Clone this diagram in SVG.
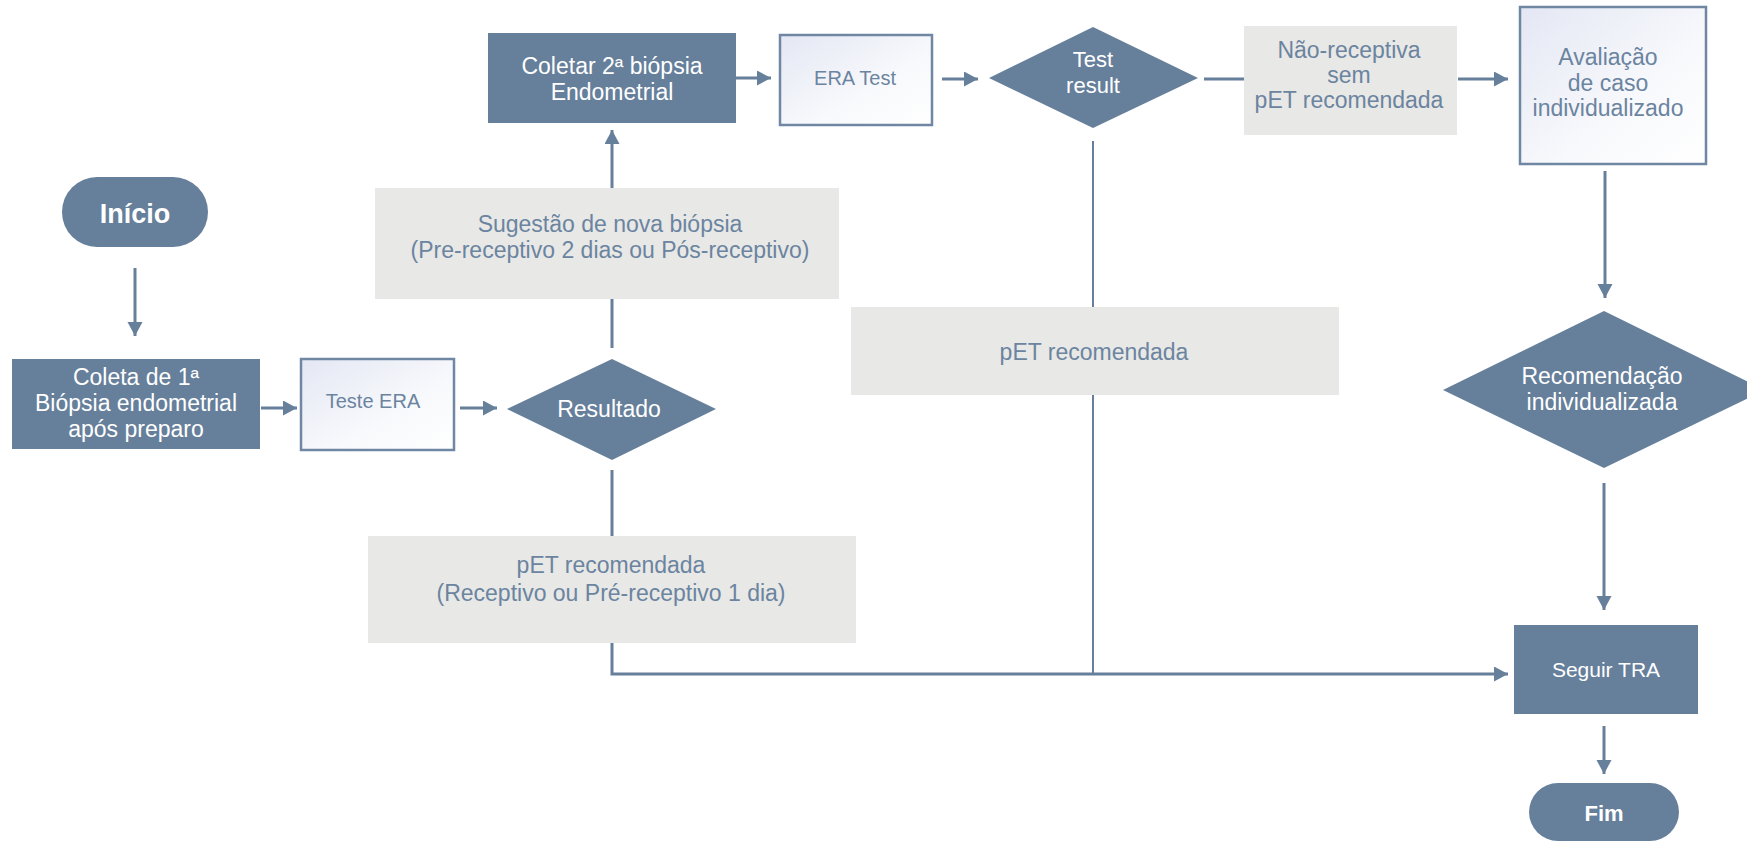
<svg xmlns="http://www.w3.org/2000/svg" width="1747" height="842" viewBox="0 0 1747 842">
<defs>
<linearGradient id="lg" x1="0" y1="0" x2="1" y2="1">
<stop offset="0" stop-color="#e4e7f4"/>
<stop offset="0.6" stop-color="#f8f9fc"/>
<stop offset="1" stop-color="#ffffff"/>
</linearGradient>
<marker id="ah" markerUnits="userSpaceOnUse" markerWidth="16" markerHeight="16" refX="14" refY="7.5" orient="auto">
<path d="M0,0 L14,7.5 L0,15 z" fill="#667f9b"/>
</marker>
<style>
.dark{fill:#667f9b;}
.gray{fill:#e8e8e6;}
.light{fill:url(#lg);stroke:#6f87a3;stroke-width:2.5;}
.conn{fill:none;stroke:#667f9b;stroke-width:3;}
.thin{stroke-width:2;}
text{font-family:"Liberation Sans",Arial,sans-serif;text-anchor:middle;font-size:23px;}
.w{fill:#ffffff;}
.b{fill:#6b84a0;}
.bold{font-weight:bold;}
</style>
</defs>
<rect width="1747" height="842" fill="#ffffff"/>
<g id="connectors">
<path class="conn" d="M135,268 V336" marker-end="url(#ah)"/>
<path class="conn" d="M261,408 H297" marker-end="url(#ah)"/>
<path class="conn" d="M460,408 H497" marker-end="url(#ah)"/>
<path class="conn" d="M612,348 V298"/>
<path class="conn" d="M612,188 V130" marker-end="url(#ah)"/>
<path class="conn" d="M736,78 H771" marker-end="url(#ah)"/>
<path class="conn" d="M942,79 H978" marker-end="url(#ah)"/>
<path class="conn" d="M1204,79 H1244"/>
<path class="conn" d="M1458,79 H1508" marker-end="url(#ah)"/>
<path class="conn" d="M1605,171 V298" marker-end="url(#ah)"/>
<path class="conn" d="M1604,483 V610" marker-end="url(#ah)"/>
<path class="conn" d="M612,470 V536"/>
<path class="conn" d="M612,643 V674 H1508" marker-end="url(#ah)"/>
<path class="conn thin" d="M1093,141 V307"/>
<path class="conn thin" d="M1093,395 V674"/>
<path class="conn" d="M1604,726 V774" marker-end="url(#ah)"/>
</g>
<g id="inicio">
<rect class="dark" x="62" y="177" width="146" height="70" rx="35"/>
<text class="w bold" x="135" y="223" style="font-size:27px">Início</text>
</g>
<g id="coleta1">
<rect class="dark" x="12" y="359" width="248" height="90"/>
<text class="w" x="136" y="385">Coleta de 1ª</text>
<text class="w" x="136" y="411">Biópsia endometrial</text>
<text class="w" x="136" y="437">após preparo</text>
</g>
<g id="testeera">
<rect class="light" x="301" y="359" width="153" height="91"/>
<text class="b" x="373" y="408" style="font-size:20px">Teste ERA</text>
</g>
<g id="resultado">
<polygon class="dark" points="507,409 612,359 716,409 612,460"/>
<text class="w" x="609" y="417">Resultado</text>
</g>
<g id="sugestao">
<rect class="gray" x="375" y="188" width="464" height="111"/>
<text class="b" x="610" y="232">Sugestão de nova biópsia</text>
<text class="b" x="610" y="258">(Pre-receptivo 2 dias ou Pós-receptivo)</text>
</g>
<g id="coletar2">
<rect class="dark" x="488" y="33" width="248" height="90"/>
<text class="w" x="612" y="74">Coletar 2ª biópsia</text>
<text class="w" x="612" y="100">Endometrial</text>
</g>
<g id="eratest">
<rect class="light" x="780" y="35" width="152" height="90"/>
<text class="b" x="855" y="85" style="font-size:20px">ERA Test</text>
</g>
<g id="testresult">
<polygon class="dark" points="989,78 1093,27 1198,78 1093,128"/>
<text class="w" x="1093" y="67" style="font-size:22px">Test</text>
<text class="w" x="1093" y="93" style="font-size:22px">result</text>
</g>
<g id="naoreceptiva">
<rect class="gray" x="1244" y="26" width="213" height="109"/>
<text class="b" x="1349" y="58">Não-receptiva</text>
<text class="b" x="1349" y="83">sem</text>
<text class="b" x="1349" y="108">pET recomendada</text>
</g>
<g id="avaliacao">
<rect class="light" x="1520" y="7" width="186" height="157"/>
<text class="b" x="1608" y="65">Avaliação</text>
<text class="b" x="1608" y="91">de caso</text>
<text class="b" x="1608" y="116">individualizado</text>
</g>
<g id="petmid">
<rect class="gray" x="851" y="307" width="488" height="88"/>
<text class="b" x="1094" y="360">pET recomendada</text>
</g>
<g id="petleft">
<rect class="gray" x="368" y="536" width="488" height="107"/>
<text class="b" x="611" y="573">pET recomendada</text>
<text class="b" x="611" y="601">(Receptivo ou Pré-receptivo 1 dia)</text>
</g>
<g id="recomendacao">
<polygon class="dark" points="1443,390 1604,311 1765,390 1604,468"/>
<text class="w" x="1602" y="384">Recomendação</text>
<text class="w" x="1602" y="410">individualizada</text>
</g>
<g id="seguirtra">
<rect class="dark" x="1514" y="625" width="184" height="89"/>
<text class="w" x="1606" y="677" style="font-size:21px">Seguir TRA</text>
</g>
<g id="fim">
<rect class="dark" x="1529" y="783" width="150" height="58" rx="29"/>
<text class="w bold" x="1604" y="821" style="font-size:22px">Fim</text>
</g>
</svg>
